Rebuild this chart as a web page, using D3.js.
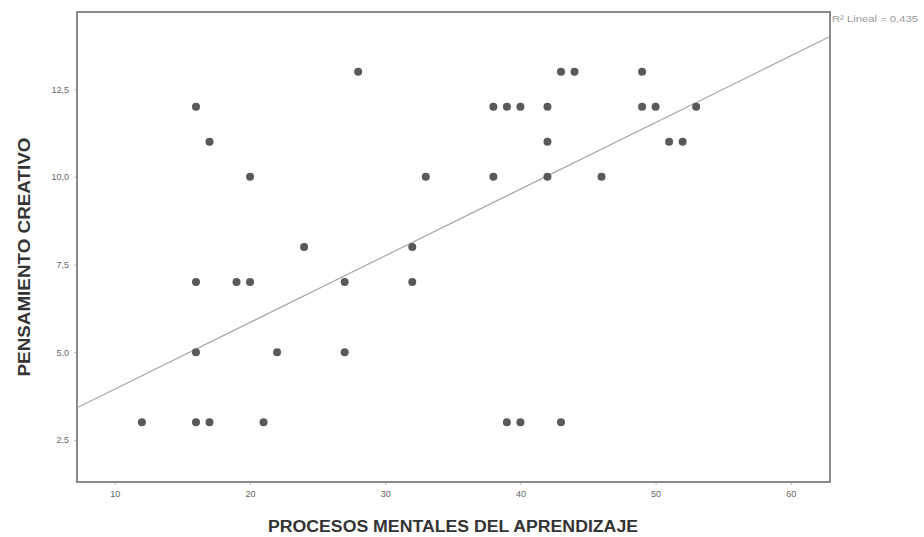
<!DOCTYPE html>
<html>
<head>
<meta charset="utf-8">
<script src="https://cdn.jsdelivr.net/npm/d3@7"></script>
<style>
  body { margin: 0; background: #fff; }
  .tick text { font-family: "Liberation Sans", Arial, sans-serif; font-size: 9px; fill: #666; }
  .axis-title { font-family: "Liberation Sans", Arial, sans-serif; font-size: 16px; font-weight: bold; fill: #333; }
</style>
</head>
<body>
<div class="chart-wrapper"></div>
<script>
// PROCESOS MENTALES DEL APRENDIZAJE (x) vs PENSAMIENTO CREATIVO (y)
var xValues = [12,16,17,20,16,19,20,24,16,22,16,17,21,28,27,27,32,32,33,38,39,40,38,42,42,42,43,44,39,40,43,49,49,50,53,51,52,46];
var yValues = [3,12,11,10,7,7,7,8,5,5,3,3,3,13,7,5,8,7,10,12,12,12,10,12,11,10,13,13,3,3,3,13,12,12,12,11,11,10];
var xTicks = [10,20,30,40,50,60];
var yTicks = [2.5,5.0,7.5,10.0,12.5];
// fit line as drawn in the source (R2 Lineal = 0,435)
var fitIntercept = 2.05;
var fitSlope = 0.19;
var fitLabel = "R\u00B2 Lineal = 0,435";

var data = xValues.map(function(d, i){ return {x: d, y: yValues[i]}; });

var margin = {top: 12, right: 94, bottom: 55, left: 77},
    width = 924 - margin.left - margin.right,
    height = 537 - margin.top - margin.bottom;

var x = d3.scaleLinear().domain([7.2, 62.9]).range([0, width]);
var y = d3.scaleLinear().domain([1.3, 14.7]).range([height, 0]);

var svg = d3.select('.chart-wrapper').append("svg")
  .attr("width", 924)
  .attr("height", 537);

var g = svg.append("g")
  .attr("transform", "translate(" + margin.left + "," + margin.top + ")");

var fmt = function(d){ return d3.format(".1f")(d).replace(".", ","); };

var xAxis = g.append("g")
  .attr("transform", "translate(0," + height + ")")
  .call(d3.axisBottom(x).tickValues(xTicks).tickSize(3).tickPadding(6));
xAxis.select(".domain").remove();
xAxis.selectAll(".tick line").attr("stroke", "#bbb");

var yAxis = g.append("g")
  .call(d3.axisLeft(y).tickValues(yTicks).tickFormat(fmt).tickSize(3).tickPadding(5));
yAxis.select(".domain").remove();
yAxis.selectAll(".tick line").attr("stroke", "#bbb");

// frame
g.append("rect")
  .attr("x", 0).attr("y", 0)
  .attr("width", width).attr("height", height)
  .attr("fill", "none")
  .attr("stroke", "#8a8a8a")
  .attr("stroke-width", 2);

// fit line
g.append("line")
  .attr("x1", x(7.2)).attr("y1", y(fitIntercept + fitSlope * 7.2))
  .attr("x2", x(62.9)).attr("y2", y(fitIntercept + fitSlope * 62.9))
  .attr("stroke", "#a8a8a8")
  .attr("stroke-width", 1.2);

g.selectAll(".dot")
  .data(data)
  .enter().append("circle")
  .attr("class", "dot")
  .attr("cx", function(d){ return x(d.x); })
  .attr("cy", function(d){ return y(d.y); })
  .attr("r", 4)
  .attr("fill", "#595959");

svg.append("text")
  .attr("x", margin.left + width + 2)
  .attr("y", margin.top + 10)
  .attr("textLength", 86)
  .attr("lengthAdjust", "spacingAndGlyphs")
  .style("font-family", "Liberation Sans, Arial, sans-serif")
  .style("font-size", "9px")
  .style("fill", "#999")
  .text(fitLabel);

svg.append("text")
  .attr("class", "axis-title")
  .attr("x", 453)
  .attr("y", 532)
  .attr("text-anchor", "middle")
  .attr("textLength", 370)
  .attr("lengthAdjust", "spacingAndGlyphs")
  .text("PROCESOS MENTALES DEL APRENDIZAJE");

svg.append("text")
  .attr("class", "axis-title")
  .attr("transform", "translate(30,257) rotate(-90)")
  .attr("text-anchor", "middle")
  .attr("textLength", 239)
  .attr("lengthAdjust", "spacingAndGlyphs")
  .text("PENSAMIENTO CREATIVO");
</script>
</body>
</html>
